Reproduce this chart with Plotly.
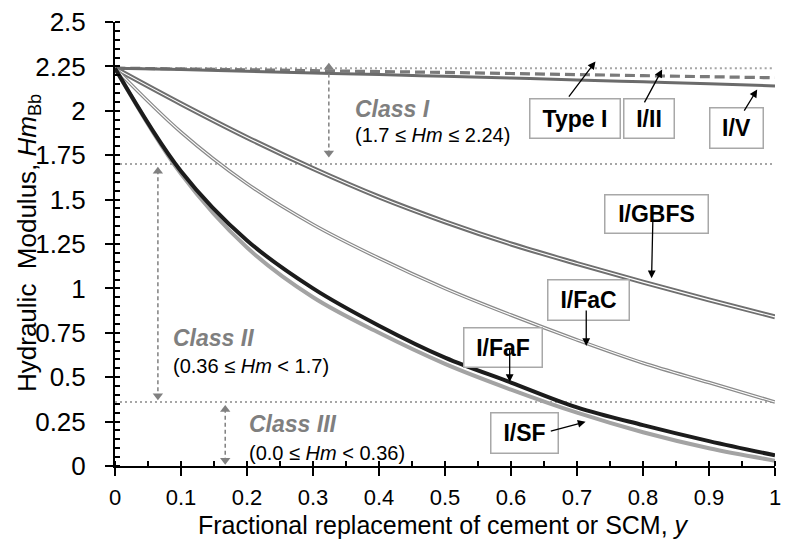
import plotly.graph_objects as go

# ---------------- data ----------------
y_frac = [0.0, 0.1, 0.2, 0.3, 0.4, 0.5, 0.6, 0.7, 0.8, 0.9, 1.0]

hm_type_I = [2.24, 2.24, 2.24, 2.24, 2.24, 2.24, 2.24, 2.24, 2.24, 2.24, 2.24]
hm_I_II   = [2.24, 2.236, 2.231, 2.226, 2.221, 2.216, 2.210, 2.204, 2.198, 2.192, 2.186]
hm_I_V    = [2.24, 2.232, 2.222, 2.213, 2.204, 2.194, 2.184, 2.174, 2.163, 2.152, 2.140]
hm_I_GBFS = [2.24, 2.04, 1.85, 1.675, 1.515, 1.375, 1.25, 1.14, 1.035, 0.935, 0.84]
hm_I_FaC  = [2.24, 1.88, 1.59, 1.36, 1.17, 1.00, 0.85, 0.71, 0.58, 0.47, 0.36]
hm_I_FaF  = [2.24, 1.66, 1.27, 1.00, 0.79, 0.61, 0.47, 0.33, 0.23, 0.14, 0.06]
hm_I_SF   = [2.24, 1.645, 1.23, 0.95, 0.75, 0.575, 0.43, 0.30, 0.19, 0.10, 0.03]

class_bounds = [2.24, 1.7, 0.36, 0.0]
class_names = ["Class I", "Class II", "Class III"]
class_ranges = ["(1.7 \u2264 <i>Hm</i> \u2264 2.24)",
                "(0.36 \u2264 <i>Hm</i> < 1.7)",
                "(0.0 \u2264 <i>Hm</i> < 0.36)"]

x_ticks = [0, 0.1, 0.2, 0.3, 0.4, 0.5, 0.6, 0.7, 0.8, 0.9, 1]
y_ticks = [0, 0.25, 0.5, 0.75, 1, 1.25, 1.5, 1.75, 2, 2.25, 2.5]

FONT = "Liberation Sans, Arial, sans-serif"

fig = go.Figure()

def line(yv, color, width, dash="solid", name=""):
    fig.add_trace(go.Scatter(x=y_frac, y=yv, mode="lines", name=name,
                             line=dict(color=color, width=width, dash=dash, shape="spline"),
                             hoverinfo="skip", showlegend=False))

# class boundaries (dotted)
for b in class_bounds[1:3]:
    fig.add_trace(go.Scatter(x=[y_frac[0], y_frac[-1]], y=[b, b], mode="lines",
                             line=dict(color="#a6a6a6", width=2, dash="2px,3px"),
                             hoverinfo="skip", showlegend=False))

# curves
line(hm_type_I, "#a6a6a6", 2, "2px,3px", "Type I")
line(hm_I_II, "#7a7a7a", 3.2, "10px,5px", "I/II")
line(hm_I_V, "#6b6b6b", 3, "solid", "I/V")
# double lines
line(hm_I_GBFS, "#6f6f6f", 5, "solid", "I/GBFS")
line(hm_I_GBFS, "#ffffff", 1.2, "solid")
line(hm_I_FaC, "#8a8a8a", 3.6, "solid", "I/FaC")
line(hm_I_FaC, "#ffffff", 1.1, "solid")
line(hm_I_SF, "#a3a3a3", 4, "solid", "I/SF")
line(hm_I_FaF, "#1c1c1c", 4, "solid", "I/FaF")

# class double-headed dashed arrows
arrow_x = [0.324, 0.065, 0.167]
arrow_top = [2.27, 1.685, 0.343]
arrow_bot = [1.737, 0.371, 0.007]
for ax_, t, b in zip(arrow_x, arrow_top, arrow_bot):
    fig.add_trace(go.Scatter(x=[ax_, ax_], y=[t - 0.02, b + 0.02], mode="lines",
                             line=dict(color="#808080", width=1.5, dash="4px,3px"),
                             hoverinfo="skip", showlegend=False))
    fig.add_trace(go.Scatter(x=[ax_, ax_], y=[t - 0.025, b + 0.025], mode="markers",
                             marker=dict(symbol=["triangle-up", "triangle-down"], size=9,
                                         color="#808080", line=dict(width=0)),
                             hoverinfo="skip", showlegend=False))

# dummy trace for overlay axes (inside major ticks)
fig.add_trace(go.Scatter(x=[None], y=[None], xaxis="x2", yaxis="y2",
                         showlegend=False, hoverinfo="skip"))

annotations = []

# class labels
class_lx = [0.3604, 0.0851, 0.2002]
class_ly = [2.011, 0.721, 0.237]
class_sy = [1.866, 0.561, 0.076]
for nm, rg, lx, ly, sy in zip(class_names, class_ranges, class_lx, class_ly, class_sy):
    annotations.append(dict(x=lx, y=ly, xref="x", yref="y", text="<b><i>%s</i></b>" % nm,
                            showarrow=False, xanchor="left", yanchor="middle",
                            font=dict(family=FONT, size=23, color="#7f7f7f")))
    annotations.append(dict(x=lx, y=sy, xref="x", yref="y", text=rg,
                            showarrow=False, xanchor="left", yanchor="middle",
                            font=dict(family=FONT, size=20, color="#000000")))

# label boxes
box_labels = ["Type I", "I/II", "I/V", "I/GBFS", "I/FaC", "I/FaF", "I/SF"]
box_x = [0.697, 0.809, 0.941, 0.821, 0.718, 0.588, 0.621]
box_y = [1.955, 1.955, 1.902, 1.419, 0.937, 0.669, 0.185]
box_w = [92, 52, 55, 105, 83, 80, 69]
box_h = [41, 41, 42, 40, 42, 41, 42]
for lb, bx, by, bw, bh in zip(box_labels, box_x, box_y, box_w, box_h):
    annotations.append(dict(x=bx, y=by, xref="x", yref="y", text="<b>%s</b>" % lb,
                            showarrow=False, xanchor="center", yanchor="middle",
                            width=bw - 3, height=bh - 3, borderpad=0, borderwidth=1.5,
                            bordercolor="#a8a8a8", bgcolor="#ffffff", align="center",
                            font=dict(family=FONT, size=23, color="#000000")))

# pointer arrows (tail -> tip)
tail_x = [0.686, 0.801, 0.952, 0.815, 0.714, 0.598, 0.658]
tail_y = [2.071, 2.039, 1.993, 1.396, 0.884, 0.669, 0.194]
tip_x = [0.728, 0.829, 0.973, 0.813, 0.714, 0.598, 0.713]
tip_y = [2.278, 2.232, 2.120, 1.057, 0.675, 0.473, 0.249]
for txx, tyy, px, py in zip(tail_x, tail_y, tip_x, tip_y):
    annotations.append(dict(x=px, y=py, xref="x", yref="y", ax=txx, ay=tyy,
                            axref="x", ayref="y", text="", showarrow=True,
                            arrowhead=2, arrowsize=1.2, arrowwidth=1.3, arrowcolor="#000000",
                            standoff=0, startstandoff=0))

# axis titles
annotations.append(dict(x=0.498, y=-0.1335, xref="paper", yref="paper",
                        text="Fractional replacement of cement or SCM, <i>y</i>",
                        showarrow=False, xanchor="center", yanchor="middle",
                        font=dict(family=FONT, size=25, color="#000000")))
annotations.append(dict(x=-0.132, y=0.502, xref="paper", yref="paper",
                        text="Hydraulic&nbsp; Modulus, <i>Hm</i><sub>Bb</sub>", textangle=-90,
                        showarrow=False, xanchor="center", yanchor="middle",
                        font=dict(family=FONT, size=26, color="#000000")))

axis_common = dict(showgrid=False, zeroline=False, showline=True, linecolor="#000000",
                   linewidth=2, ticks="outside", ticklen=8, tickwidth=1.5, tickcolor="#000000")

fig.update_layout(
    width=788, height=548,
    margin=dict(l=115, r=7, t=19, b=82),
    plot_bgcolor="#ffffff", paper_bgcolor="#ffffff",
    showlegend=False,
    annotations=annotations,
    xaxis=dict(range=[0, 1], tickvals=x_ticks, ticktext=[("%g" % v) for v in x_ticks],
               minor=dict(dtick=0.05, ticks="inside", ticklen=5, tickwidth=1.5, tickcolor="#000000"),
               tickfont=dict(family=FONT, size=22, color="#000000"), ticklabelstandoff=3,
               **axis_common),
    yaxis=dict(range=[0, 2.5], tickvals=y_ticks, ticktext=[("%g" % v) for v in y_ticks],
               minor=dict(dtick=0.05, ticks="inside", ticklen=5, tickwidth=1.5, tickcolor="#000000"),
               tickfont=dict(family=FONT, size=26, color="#000000"), ticklabelstandoff=14,
               **axis_common),
    xaxis2=dict(range=[0, 1], overlaying="x", anchor="y2", side="bottom", tickvals=x_ticks,
                ticks="inside", ticklen=5, tickwidth=1.5, tickcolor="#000000",
                showticklabels=False, showline=False, showgrid=False, zeroline=False),
    yaxis2=dict(range=[0, 2.5], overlaying="y", anchor="x2", side="left", tickvals=y_ticks,
                ticks="inside", ticklen=5, tickwidth=1.5, tickcolor="#000000",
                showticklabels=False, showline=False, showgrid=False, zeroline=False),
)

fig.write_html("out.html")
